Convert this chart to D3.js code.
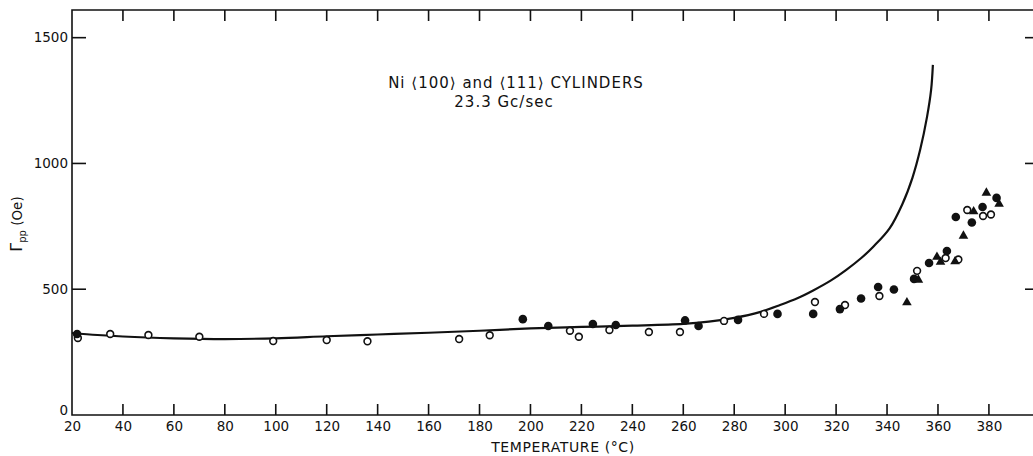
<!DOCTYPE html>
<html lang='en'>
	<head>
		<title>Ni cylinders linewidth</title>
		<script type='text/javascript' src='https://cdn.jsdelivr.net/npm/d3@7/dist/d3.min.js'></script>
		<style>
			body { margin: 0; background: #fff; }
			text { font-family: 'DejaVu Sans', sans-serif; fill: #111; }
		</style>
	</head>
	<body>
		<script type='text/javascript'>
			// data (temperature in deg C, linewidth in Oe)
			var xTicks = [20, 40, 60, 80, 100, 120, 140, 160, 180, 200, 220, 240, 260, 280, 300, 320, 340, 360, 380];
			var yTicks = [0, 500, 1000, 1500];

			var openT = [22.3, 35, 50, 70, 99, 120, 136, 172, 184, 215.5, 219, 231, 246.5, 258.7, 276, 291.7, 311.7, 323.5, 337, 351.8, 363, 368, 371.5, 377.7, 380.8];
			var openV = [306, 322, 318, 311, 294, 298, 293, 302, 317, 335, 311, 338, 330, 330, 374, 402, 449, 437, 473, 573, 624, 618, 815, 791, 797];

			var filledT = [22, 197, 207, 224.5, 233.5, 260.7, 266, 281.5, 297, 311, 321.5, 329.8, 336.5, 342.7, 350.6, 356.5, 363.5, 367, 373.3, 377.5, 383];
			var filledV = [322, 381, 354, 362, 358, 376, 354, 378, 402, 402, 421, 463, 509, 499, 541, 604, 652, 787, 765, 827, 863];

			var triT = [347.8, 352.3, 359.6, 361, 366.7, 370, 374, 379, 384];
			var triV = [447, 537, 628, 608, 610, 712, 809, 883, 839];

			var curveT = [20, 30, 40, 60, 80, 100, 120, 140, 160, 180, 200, 220, 240, 260, 270, 280, 290, 298, 305, 311, 318, 324, 330, 334.5, 341, 346, 350, 353, 355.7, 357.3, 358];
			var curveV = [326, 318, 312, 305, 302, 305, 313, 320, 327, 335, 344, 350, 355, 362, 371, 386, 409, 437, 465, 495, 535, 577, 625, 668, 742, 838, 944, 1054, 1185, 1292, 1392];

			{
				var width = 1033, height = 456;
				var pLeft = 72, pRight = 1040, pTop = 10, pBottom = 415;

				var svg = d3.select('body').append('svg').attr('width', width).attr('height', height);

				var x = d3.scaleLinear().domain([20, 400]).range([pLeft, pLeft + 380 * 2.547]);
				var y = d3.scaleLinear().domain([0, 1610]).range([pBottom, pTop]);

				var ink = '#111';

				// frame (right side runs off the picture)
				svg.append('path')
					.attr('d', 'M' + pRight + ',' + pTop + 'H' + pLeft + 'V' + pBottom + 'H' + pRight)
					.attr('fill', 'none').attr('stroke', ink).attr('stroke-width', 1.6);

				// bottom axis labels + inward ticks
				var bottomAxis = d3.axisBottom(x).tickValues(xTicks).tickSize(0).tickPadding(6).tickFormat(d3.format('d'));
				var gx = svg.append('g').attr('transform', 'translate(0,' + pBottom + ')').call(bottomAxis);
				gx.select('.domain').remove();
				gx.selectAll('text').attr('font-size', 13.5).attr('font-family', 'DejaVu Sans').attr('fill', ink);

				var inner = xTicks.filter(d => d > 20);
				svg.selectAll('line.bt').data(inner).enter().append('line')
					.attr('x1', d => x(d)).attr('x2', d => x(d))
					.attr('y1', pBottom).attr('y2', pBottom - 11)
					.attr('stroke', ink).attr('stroke-width', 1.6);
				svg.selectAll('line.tt').data(inner).enter().append('line')
					.attr('x1', d => x(d)).attr('x2', d => x(d))
					.attr('y1', pTop).attr('y2', pTop + 11)
					.attr('stroke', ink).attr('stroke-width', 1.6);

				// left axis
				var leftAxis = d3.axisLeft(y).tickValues(yTicks).tickSize(0).tickPadding(4).tickFormat(d3.format('d'));
				var gy = svg.append('g').attr('transform', 'translate(' + pLeft + ',0)').call(leftAxis);
				gy.select('.domain').remove();
				gy.selectAll('text').attr('font-size', 13.5).attr('font-family', 'DejaVu Sans').attr('fill', ink)
					.attr('dy', d => d === 0 ? '-0.05em' : '0.32em');

				var ymid = yTicks.filter(d => d > 0);
				svg.selectAll('line.lt').data(ymid).enter().append('line')
					.attr('x1', pLeft).attr('x2', pLeft + 14)
					.attr('y1', d => y(d)).attr('y2', d => y(d))
					.attr('stroke', ink).attr('stroke-width', 1.6);
				svg.selectAll('line.rt').data(ymid).enter().append('line')
					.attr('x1', 1025).attr('x2', pRight)
					.attr('y1', d => y(d)).attr('y2', d => y(d))
					.attr('stroke', ink).attr('stroke-width', 1.6);

				// axis titles
				svg.append('text')
					.attr('x', 563).attr('y', 452)
					.attr('text-anchor', 'middle').attr('font-size', 14).attr('letter-spacing', 0.6)
					.text('TEMPERATURE (°C)');

				var ylab = svg.append('text')
					.attr('transform', 'translate(22,224) rotate(-90)')
					.attr('text-anchor', 'middle').attr('font-size', 13.5);
				ylab.append('tspan').attr('font-size', 16).text('Γ');
				ylab.append('tspan').attr('font-size', 10).attr('dy', 4).text('pp');
				ylab.append('tspan').attr('dy', -4).text(' (Oe)');

				// annotation
				svg.append('text')
					.attr('x', 516).attr('y', 88)
					.attr('text-anchor', 'middle').attr('font-size', 15).attr('letter-spacing', 1)
					.text('Ni ⟨100⟩ and ⟨111⟩ CYLINDERS');
				svg.append('text')
					.attr('x', 504).attr('y', 107)
					.attr('text-anchor', 'middle').attr('font-size', 15).attr('letter-spacing', 1)
					.text('23.3 Gc/sec');

				// theoretical curve
				var line = d3.line()
					.x(d => x(d[0]))
					.y(d => y(d[1]))
					.curve(d3.curveCatmullRom.alpha(0.5));
				svg.append('path')
					.datum(d3.zip(curveT, curveV))
					.attr('d', line)
					.attr('fill', 'none').attr('stroke', ink).attr('stroke-width', 2.2);

				// measured points
				svg.selectAll('circle.open').data(d3.zip(openT, openV)).enter().append('circle')
					.attr('cx', d => x(d[0])).attr('cy', d => y(d[1]))
					.attr('r', 3.4)
					.attr('fill', '#fff').attr('stroke', ink).attr('stroke-width', 1.6);

				svg.selectAll('circle.filled').data(d3.zip(filledT, filledV)).enter().append('circle')
					.attr('cx', d => x(d[0])).attr('cy', d => y(d[1]))
					.attr('r', 4.3)
					.attr('fill', ink);

				var tri = d3.symbol().type(d3.symbolTriangle).size(40);
				svg.selectAll('path.tri').data(d3.zip(triT, triV)).enter().append('path')
					.attr('d', tri)
					.attr('transform', d => 'translate(' + x(d[0]) + ',' + y(d[1]) + ')')
					.attr('fill', ink);
			}
		</script>
	</body>
</html>
